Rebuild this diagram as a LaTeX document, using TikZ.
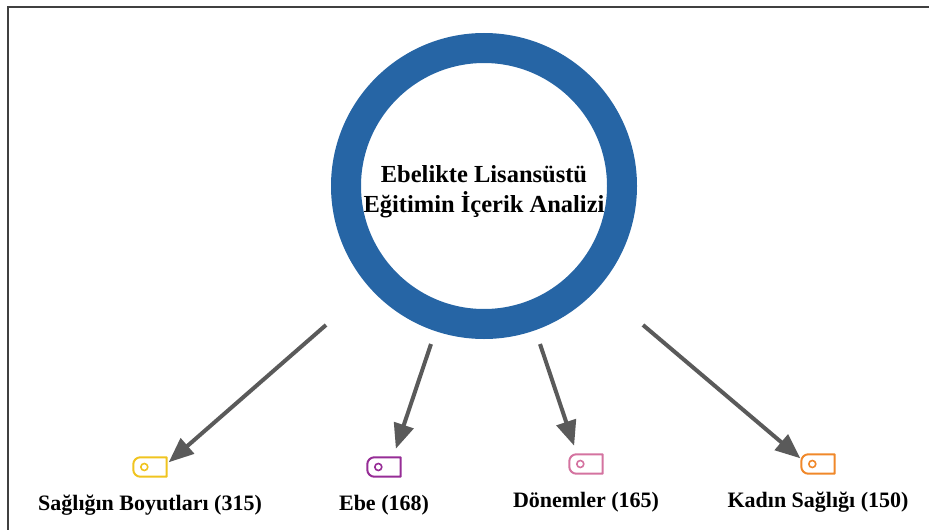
\documentclass[tikz,border=0pt]{standalone}
\usepackage{fontspec}
\setmainfont{Liberation Serif}
\usetikzlibrary{arrows.meta,positioning,calc}
\definecolor{hubblue}{RGB}{38,101,165}
\definecolor{arrowgray}{RGB}{90,90,90}
\definecolor{tagyellow}{RGB}{240,196,32}
\definecolor{tagpurple}{RGB}{150,45,150}
\definecolor{tagpink}{RGB}{212,115,160}
\definecolor{tagorange}{RGB}{240,136,42}
\tikzset{
  hub/.style={circle, draw=hubblue, line width=30pt, minimum size=276pt, inner sep=0pt},
  title/.style={align=center, inner sep=0pt, font=\bfseries\fontsize{24.5}{30}\selectfont},
  tagbox/.style={minimum width=33pt, minimum height=19pt, inner sep=0pt},
  tagline/.style={line width=2pt, line join=round},
  lbl/.style={font=\bfseries\fontsize{22}{24}\selectfont, inner sep=0pt},
  arr/.style={line width=4pt, draw=arrowgray, -{Triangle[length=25pt,width=20pt,fill=arrowgray]}},
}
\begin{document}
\begin{tikzpicture}[x=1pt,y=-1pt]
    \useasboundingbox (0,0) rectangle (929,530);
    % frame
    \draw[line width=1.3pt, black!75] (8,545) |- (945,7);

    % centre
    \node[hub] (hub) at (484,186) {};
    \node[title] (title) at ([yshift=-6pt]hub.center) {Ebelikte Lisansüstü\\Eğitimin İçerik Analizi};

    % tags and their labels
    \foreach \n/\x/\y/\c/\t in {t1/150/467/tagyellow/{Sağlığın Boyutları (315)},
                                 t2/384/467/tagpurple/{Ebe (168)},
                                 t3/586/464/tagpink/{Dönemler (165)},
                                 t4/818/464/tagorange/{Kadın Sağlığı (150)}} {
        \node[tagbox] (\n) at (\x,\y) {};
        \draw[tagline, \c] (\n.north east) -- (\n.south east) -- ([xshift=7pt]\n.south west)
            arc[start angle=270, end angle=180, radius=7pt] -- ([yshift=-7pt]\n.north west)
            arc[start angle=180, end angle=90, radius=7pt] -- cycle;
        \draw[\c, line width=1.6pt] ([xshift=11pt]\n.west) circle (3.5pt);
        \node[lbl, below=34pt of \n.south, anchor=base] (\n-lbl) {\t};
    }

    % arrows
    \coordinate (s1) at (326,325);
    \coordinate (s2) at (431,344);
    \coordinate (s3) at (540,344);
    \coordinate (s4) at (643,325);
    \draw[arr] (s1) -- ([xshift=2pt,yshift=-5pt]t1.north east);
    \draw[arr, shorten >=9pt] (s2) -- ([xshift=9pt]t2.north);
    \draw[arr, shorten >=9pt] (s3) -- ([xshift=-9pt]t3.north);
    \draw[arr] (s4) -- ([xshift=-1pt,yshift=-4pt]t4.north west);
\end{tikzpicture}
\end{document}
